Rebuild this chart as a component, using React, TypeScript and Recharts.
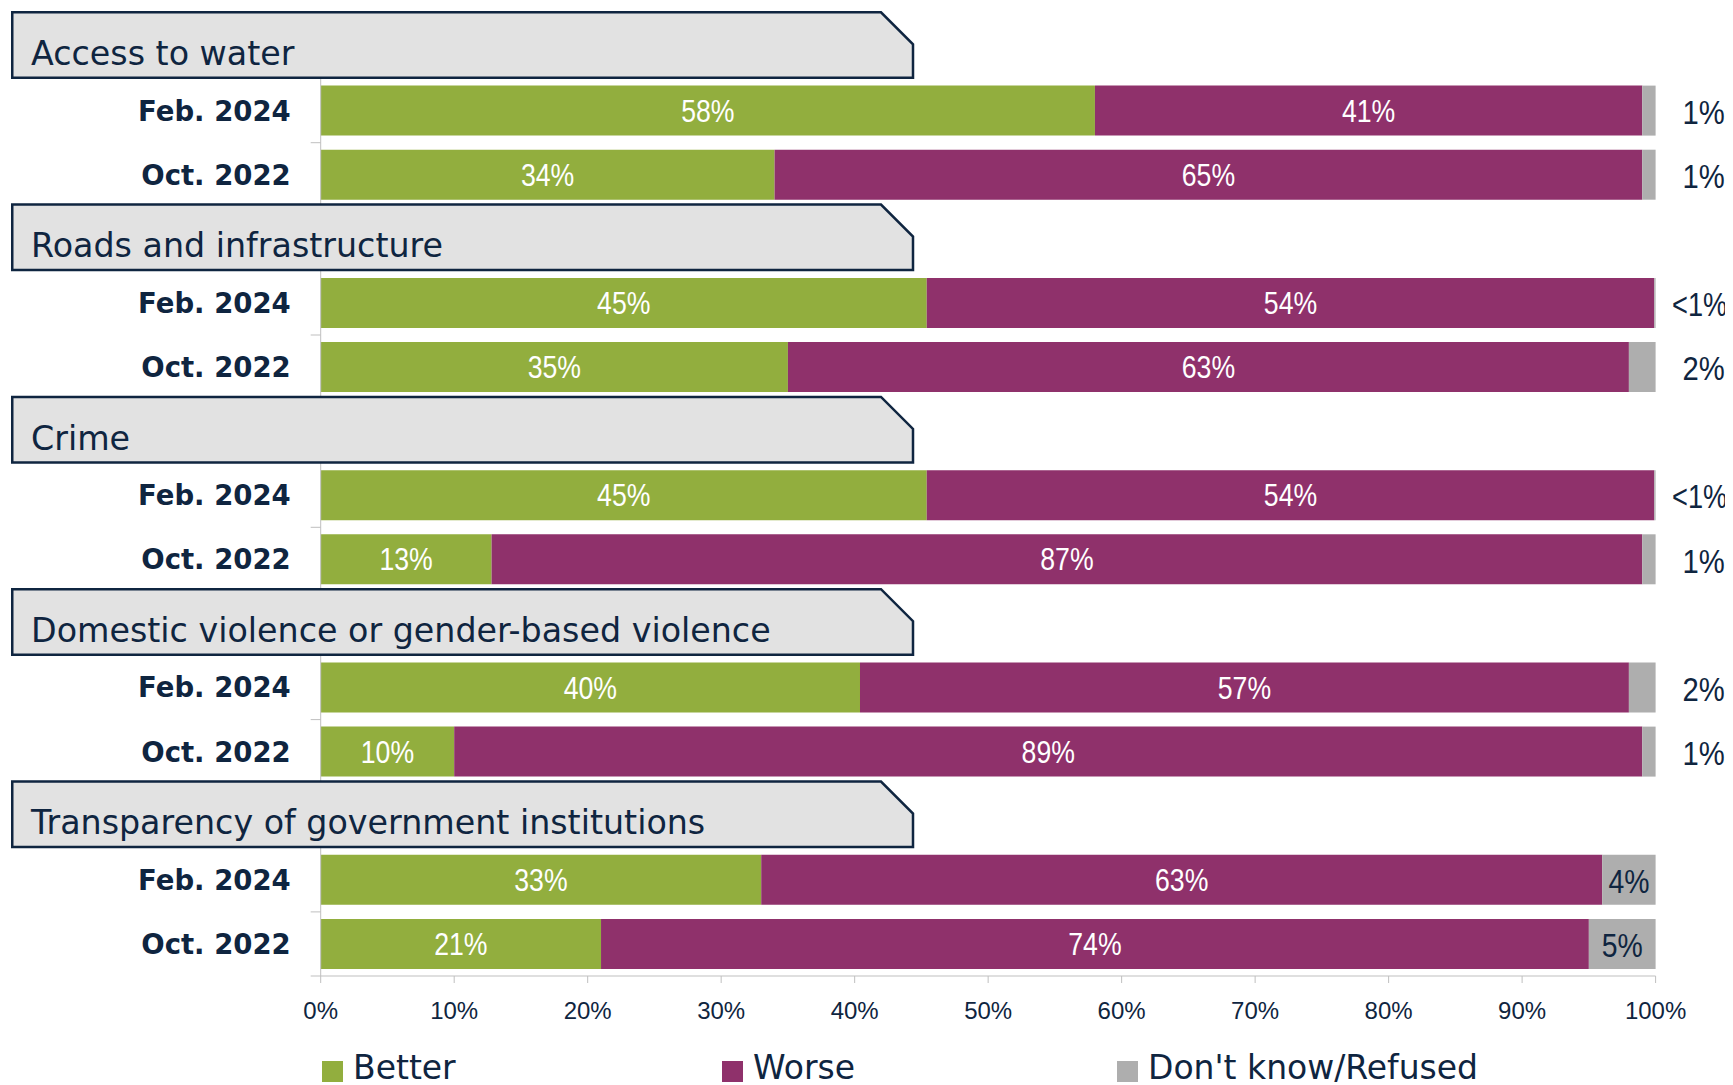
import React from 'react';
import { BarChart, Bar, XAxis, YAxis, LabelList, Legend } from 'recharts';

// Survey: has each issue gotten better or worse, two waves per issue

const GROUPS = [
  'Access to water',
  'Roads and infrastructure',
  'Crime',
  'Domestic violence or gender-based violence',
  'Transparency of government institutions',
];
const WAVES = ['Feb. 2024', 'Oct. 2022'];
const SERIES_NAMES = ['Better', 'Worse', "Don't know/Refused"];

// one entry per (group, wave), in order
const BETTER = [58, 34, 45.4, 35, 45.4, 12.8, 40.4, 10, 33, 21];
const WORSE = [41, 65, 54.5, 63, 54.5, 86.2, 57.6, 89, 63, 74];
const DONT_KNOW = [1, 1, 0.1, 2, 0.1, 1, 2, 1, 4, 5];

const BETTER_LABELS = ['58%', '34%', '45%', '35%', '45%', '13%', '40%', '10%', '33%', '21%'];
const WORSE_LABELS = ['41%', '65%', '54%', '63%', '54%', '87%', '57%', '89%', '63%', '74%'];
const DONT_KNOW_LABELS = ['1%', '1%', '<1%', '2%', '<1%', '1%', '2%', '1%', '4%', '5%'];

const X_TICKS = [0, 10, 20, 30, 40, 50, 60, 70, 80, 90, 100];

const GREEN = '#92AE3E';
const PURPLE = '#8F316B';
const GREY = '#AEAEAE';
const NAVY = '#0F2540';
const AXIS_GREY = '#BFBFBF';
const HEADER_FILL = '#E2E2E2';

const TEXT_FONT = '"DejaVu Sans", sans-serif';
const NUM_FONT = '"Liberation Sans", Arial, sans-serif';

const W = 1725;
const H = 1077;
const MARGIN = { top: 6.5, right: 77.4, bottom: 4, left: 12.7 };
const Y_AXIS_W = 300;
const X_AXIS_H = 60;
const LEGEND_H = 45;
const PLOT_TOP = MARGIN.top;
const PLOT_BOTTOM = H - MARGIN.bottom - LEGEND_H - X_AXIS_H;

interface Row {
  id: string;
  kind: 'header' | 'bar';
  label: string;
  better?: number;
  worse?: number;
  dk?: number;
  betterLabel?: string;
  worseLabel?: string;
  dkLabel?: string;
}

const ROWS: Row[] = GROUPS.flatMap((g, gi) => [
  { id: `h${gi}`, kind: 'header' as const, label: g },
  ...WAVES.map((w, wi) => {
    const i = gi * 2 + wi;
    return {
      id: `r${i}`,
      kind: 'bar' as const,
      label: w,
      better: BETTER[i],
      worse: WORSE[i],
      dk: DONT_KNOW[i],
      betterLabel: BETTER_LABELS[i],
      worseLabel: WORSE_LABELS[i],
      dkLabel: DONT_KNOW_LABELS[i],
    };
  }),
]);

const BAND = (PLOT_BOTTOM - PLOT_TOP) / ROWS.length;

// y tick draws either the grey section header box or the wave label
// eslint-disable-next-line @typescript-eslint/no-explicit-any
function CategoryTick({ x, y, payload }: any) {
  const row = ROWS.find((r) => r.id === payload.value);
  if (!row) return null;
  if (row.kind === 'header') {
    const left = 4.25;
    const right = 905;
    const cut = 32;
    const top = y - BAND / 2 - 2.2;
    const bottom = y + BAND / 2 - 0.8;
    return (
      <g>
        <path
          d={`M${left},${top} H${right - cut} L${right},${top + cut} V${bottom} H${left} Z`}
          fill={HEADER_FILL}
          stroke={NAVY}
          strokeWidth={2.5}
        />
        <text x={23} y={y + 18.5} fill={NAVY} fontSize={33.3} fontFamily={TEXT_FONT}>
          {row.label}
        </text>
      </g>
    );
  }
  return (
    <g>
      <line x1={x - 10} x2={x} y1={y + BAND / 2} y2={y + BAND / 2} stroke={AXIS_GREY} />
      <text
        x={x - 30}
        y={y}
        dy="0.36em"
        textAnchor="end"
        fill={NAVY}
        fontSize={27.5}
        fontWeight="bold"
        fontFamily={TEXT_FONT}
      >
        {row.label}
      </text>
    </g>
  );
}

// eslint-disable-next-line @typescript-eslint/no-explicit-any
function boxOf(props: any) {
  const vb = props.viewBox ?? props;
  return { x: Number(vb.x), y: Number(vb.y), w: Number(vb.width), h: Number(vb.height) };
}

// percentages in the source are set in a narrow face; squeeze horizontally
function NarrowText({
  cx,
  cy,
  size,
  fill,
  squeeze = 0.86,
  children,
}: {
  cx: number;
  cy: number;
  size: number;
  fill: string;
  squeeze?: number;
  children: React.ReactNode;
}) {
  return (
    <text
      transform={`translate(${cx} ${cy}) scale(${squeeze} 1)`}
      x={0}
      y={0}
      dy="0.36em"
      textAnchor="middle"
      fill={fill}
      fontSize={size}
      fontFamily={NUM_FONT}
    >
      {children}
    </text>
  );
}

// eslint-disable-next-line @typescript-eslint/no-explicit-any
function InsideLabel(props: any) {
  if (!props.value) return null;
  const { x, y, w, h } = boxOf(props);
  return (
    <NarrowText cx={x + w / 2} cy={y + h / 2} size={31} fill="#FFFFFF">
      {props.value}
    </NarrowText>
  );
}

// small shares go outside to the right of the bar, larger ones sit inside
// eslint-disable-next-line @typescript-eslint/no-explicit-any
function DontKnowLabel(props: any) {
  if (!props.value) return null;
  const { x, y, w, h } = boxOf(props);
  if (w > 30) {
    return (
      <NarrowText cx={x + w / 2} cy={y + h / 2 + 1} size={33} fill={NAVY}>
        {props.value}
      </NarrowText>
    );
  }
  const wide = String(props.value).startsWith('<');
  return (
    <NarrowText
      cx={x + w + (wide ? 44 : 48)}
      cy={y + h / 2 + 1}
      size={34}
      squeeze={wide ? 0.8 : 0.86}
      fill={NAVY}
    >
      {props.value}
    </NarrowText>
  );
}

const LEGEND_LEFT = [314, 714, 1109];

// eslint-disable-next-line @typescript-eslint/no-explicit-any
function LegendContent({ payload }: any) {
  const items = [...(payload ?? [])].sort(
    // eslint-disable-next-line @typescript-eslint/no-explicit-any
    (a: any, b: any) => SERIES_NAMES.indexOf(a.value) - SERIES_NAMES.indexOf(b.value),
  );
  return (
    <div style={{ position: 'relative', width: W, height: LEGEND_H }}>
      {/* eslint-disable-next-line @typescript-eslint/no-explicit-any */}
      {items.map((p: any, i: number) => (
        <div key={i} style={{ position: 'absolute', left: LEGEND_LEFT[i], top: 0, height: LEGEND_H }}>
          <div
            style={{ position: 'absolute', left: 0, top: 25, width: 21, height: 21, background: p.color }}
          />
          <span
            style={{
              position: 'absolute',
              left: 31,
              top: 19,
              whiteSpace: 'nowrap',
              fontFamily: TEXT_FONT,
              fontSize: 33,
              lineHeight: '26px',
              color: NAVY,
            }}
          >
            {p.value}
          </span>
        </div>
      ))}
    </div>
  );
}

export default function App() {
  return (
    <BarChart width={W} height={H} data={ROWS} layout="vertical" margin={MARGIN} barSize={50}>
      <XAxis
        type="number"
        domain={[0, 100]}
        ticks={X_TICKS}
        tickFormatter={(v: number) => `${v}%`}
        height={X_AXIS_H}
        axisLine={{ stroke: AXIS_GREY }}
        tickLine={{ stroke: AXIS_GREY }}
        tickSize={7}
        tickMargin={19}
        tick={{ fill: NAVY, fontSize: 24, fontFamily: NUM_FONT }}
        interval={0}
      />
      <YAxis
        type="category"
        dataKey="id"
        width={Y_AXIS_W}
        axisLine={{ stroke: AXIS_GREY }}
        tickLine={false}
        tickSize={0}
        tickMargin={0}
        tick={<CategoryTick />}
        interval={0}
      />
      <Legend verticalAlign="bottom" height={LEGEND_H} content={<LegendContent />} wrapperStyle={{ left: 0 }} />
      <Bar dataKey="better" name={SERIES_NAMES[0]} stackId="s" fill={GREEN} isAnimationActive={false}>
        <LabelList dataKey="betterLabel" content={<InsideLabel />} />
      </Bar>
      <Bar dataKey="worse" name={SERIES_NAMES[1]} stackId="s" fill={PURPLE} isAnimationActive={false}>
        <LabelList dataKey="worseLabel" content={<InsideLabel />} />
      </Bar>
      <Bar dataKey="dk" name={SERIES_NAMES[2]} stackId="s" fill={GREY} isAnimationActive={false}>
        <LabelList dataKey="dkLabel" content={<DontKnowLabel />} />
      </Bar>
    </BarChart>
  );
}
